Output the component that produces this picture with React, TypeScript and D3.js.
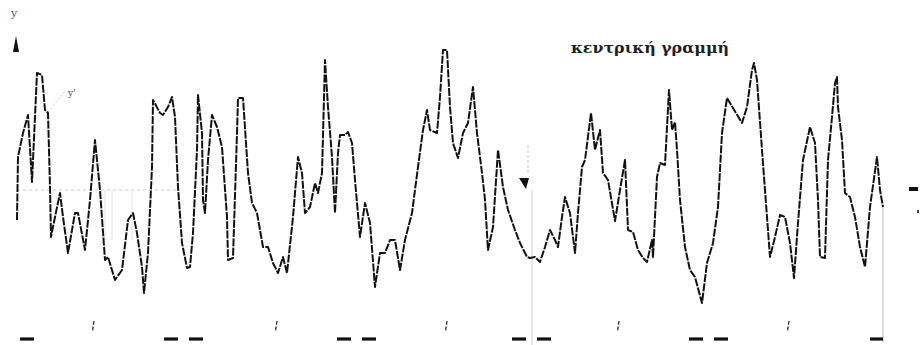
import React from "react";
import * as d3 from "d3";

// Surface profile: distance along the trace and height about the centre line
const profileDistance = [
  0, 1, 6, 11, 15, 20, 25, 28, 31, 33, 34, 38, 43, 46, 51, 58, 61, 68, 73, 78,
  83, 88, 91, 98, 105, 111, 116, 120, 125, 127, 131, 135, 136, 143, 146, 151, 155, 158, 161, 165,
  170, 173, 176, 180, 181, 185, 186, 188, 191, 195, 200, 205, 210, 211, 216, 220, 221, 226, 231, 235,
  240, 246, 251, 256, 261, 266, 270, 276, 281, 285, 288, 293, 298, 301, 305, 308, 311, 315, 318, 321,
  323, 328, 331, 335, 338, 343, 348, 353, 358, 363, 368, 373, 378, 383, 388, 395, 401, 406, 410, 413,
  420, 423, 426, 430, 433, 436, 441, 446, 451, 456, 460, 465, 468, 471, 476, 481, 486, 491, 498, 503,
  510, 513, 518, 523, 528, 533, 538, 541, 545, 548, 553, 558, 561, 565, 568, 574, 578, 583, 586, 591,
  598, 603, 608, 611, 616, 621, 626, 630, 635, 636, 640, 643, 648, 652, 655, 658, 660, 663, 668, 673,
  678, 685, 690, 696, 701, 705, 710, 725, 730, 735, 737, 740, 745, 750, 753, 758, 763, 768, 773, 777,
  781, 786, 793, 798, 801, 803, 808, 811, 815, 818, 820, 821, 825, 828, 833, 838, 843, 848, 853, 860,
  863, 866,
];

const profileHeight = [
  -30, 33, 57, 75, 8, 117, 115, 80, 77, 3, -47, -27, -3, -27, -63, -23, -23, -60, -10, 50,
  0, -70, -67, -90, -80, -30, -23, -43, -77, -103, -63, 23, 90, 77, 75, 83, 93, 73, 3, -53,
  -78, -77, -43, 40, 95, 57, -10, -23, 30, 75, 63, 43, -27, -70, -68, 57, 92, 92, 17, -13,
  -23, -57, -57, -73, -83, -67, -83, -27, 33, 17, -23, -17, 7, -3, 17, 130, 83, 33, -23, 37,
  55, 55, 58, 47, 10, -47, -13, -33, -97, -63, -63, -50, -50, -80, -50, -23, 23, 60, 80, 60,
  57, 93, 140, 140, 83, 47, 32, 57, 67, 103, 57, 17, -10, -60, -37, 40, 3, -20, -40, -53,
  -67, -68, -67, -72, -57, -40, -50, -57, -27, -7, -23, -63, -23, 23, 30, 77, 40, 60, 17, 10,
  -31, 0, 30, -40, -42, -60, -68, -72, -50, -67, 13, 27, 25, 100, 60, 68, 40, -10, -57, -80,
  -87, -113, -73, -53, -17, 57, 92, 67, 83, 120, 127, 110, 40, -27, -67, -47, -25, -27, -53, -88,
  -33, 30, 63, 47, -10, -67, -68, 30, 73, 107, 113, 83, 50, -3, -7, -27, -57, -77, -17, 33,
  0, -17,
];

// Sampling-length boundaries and the mid-length ticks, in profile distance units
const sampleBounds = [0, 167, 340, 515, 692, 866];
const midTicks = [76, 259, 429, 601, 771];

const titleText = "κεντρική γραμμή";
const axisLabel = "y";

const W = 923;
const H = 345;

export default function App() {
  const x = d3.scaleLinear().domain([0, 866]).range([17, 883]);
  const y = d3.scaleLinear().domain([-150, 150]).range([340, 40]);

  const line = d3
    .line<number>()
    .x((_, i) => x(profileDistance[i]))
    .y((d) => y(d))
    .curve(d3.curveLinear);

  const pathD = line(profileHeight) || "";

  // marker bars beside each boundary
  const bars: { x1: number; x2: number }[] = [];
  sampleBounds.forEach((b, i) => {
    const px = x(b);
    if (i === 0) {
      bars.push({ x1: px + 3, x2: px + 17 });
    } else if (i === sampleBounds.length - 1) {
      bars.push({ x1: px - 13, x2: px });
    } else {
      bars.push({ x1: px - 20, x2: px - 6 });
      bars.push({ x1: px + 5, x2: px + 19 });
    }
  });

  const y0 = y(0);
  const xEnd = x(866);
  const xMid = x(sampleBounds[3]);

  return (
    <svg
      width={W}
      height={H}
      viewBox={`0 0 ${W} ${H}`}
      style={{ position: "fixed", left: 0, top: 0, background: "#fff" }}
    >
      <rect x={0} y={0} width={W} height={H} fill="#fff" />

      {/* y axis label and arrow head */}
      <text x={11} y={17} fontSize={11} fill="#555" fontFamily="DejaVu Serif">
        {axisLabel}
      </text>
      <path d={`M${x(0) - 1},36 L${x(0) - 4},52 L${x(0) + 2},52 Z`} fill="#111" />

      {/* small mean-line label near the first peak */}
      <line x1={48} y1={112} x2={66} y2={90} stroke="#ccc" strokeDasharray="2 2" />
      <text x={68} y={96} fontSize={9} fill="#444" fontFamily="DejaVu Serif">
        {"y'"}
      </text>

      {/* centre line */}
      <line
        x1={x(0)}
        y1={y0}
        x2={x(160)}
        y2={y0}
        stroke="#c8c8c8"
        strokeWidth={1}
        strokeDasharray="3 3"
      />
      {[88, 95, 115].map((d) => (
        <line key={d} x1={x(d)} y1={y0} x2={x(d)} y2={y0 + 50} stroke="#e2e2e2" strokeWidth={1} />
      ))}

      {/* vertical reference lines */}
      <line x1={xMid} y1={y0} x2={xMid} y2={H} stroke="#cfcfcf" strokeWidth={1} />
      <line x1={xEnd} y1={y(-17)} x2={xEnd} y2={342} stroke="#bdbdbd" strokeWidth={1} />

      {/* title */}
      <text
        x={571}
        y={53}
        fontSize={15}
        fontWeight="bold"
        fill="#1e1e1e"
        fontFamily="DejaVu Serif"
        textLength={158}
        lengthAdjust="spacingAndGlyphs"
      >
        {titleText}
      </text>

      {/* pointer to the centre line */}
      <line x1={528} y1={145} x2={528} y2={174} stroke="#c4c4c4" strokeDasharray="3 2" />
      <path d="M519,178 L529,178 L526,189 Z" fill="#111" />

      {/* profile trace */}
      <path
        d={pathD}
        fill="none"
        stroke="#111"
        strokeWidth={2}
        strokeLinejoin="round"
        strokeDasharray="8 1.3"
      />

      {/* right-hand marker */}
      <rect x={909} y={187} width={9} height={4} fill="#111" />
      <rect x={917} y={210} width={2} height={3} fill="#444" />

      {/* sampling-length markers */}
      {bars.map((b, i) => (
        <line
          key={i}
          x1={b.x1}
          y1={339}
          x2={b.x2}
          y2={339}
          stroke="#111"
          strokeWidth={3.2}
        />
      ))}
      {midTicks.map((t) => (
        <line
          key={t}
          x1={x(t) + 1}
          y1={321}
          x2={x(t) - 0.5}
          y2={331}
          stroke="#333"
          strokeWidth={1.3}
          strokeDasharray="4 1.5"
        />
      ))}
    </svg>
  );
}
